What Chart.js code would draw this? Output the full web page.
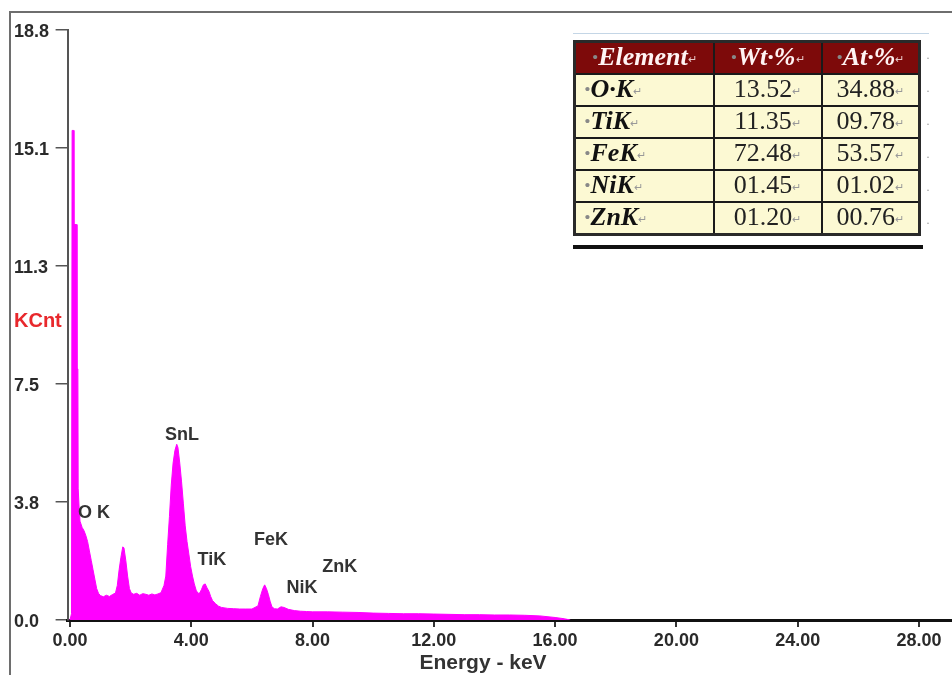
<!DOCTYPE html>
<html>
<head>
<meta charset="utf-8">
<script src="https://cdn.jsdelivr.net/npm/chart.js@4.4.1/dist/chart.umd.min.js"></script>
<style>
    body { margin: 0; background: #fff; overflow: hidden; }
    #wrap { position: relative; width: 952px; height: 675px; }
    #frame { position: absolute; left: 9px; top: 11px; width: 960px; height: 680px;
             border-top: 2px solid #6e6e6e; border-left: 2px solid #6e6e6e; }
    #blueRule { position: absolute; left: 573px; top: 33px; width: 356px; border-top: 1px solid #c4d6e6; }
    #quant { position: absolute; left: 573px; top: 40px; border-collapse: collapse; table-layout: fixed;
             border: 3px solid #2a2a2a; font-family: "Liberation Serif", "Times New Roman", serif; font-size: 26px; }
    #quant td, #quant th { border: 2px solid #1a1a1a; height: 28px; padding: 0 4px; line-height: 28px; white-space: nowrap; }
    #quant th { background: #7d0a0a; color: #fff4f4; font-style: italic; font-weight: bold; text-align: center; }
    #quant td { background: #fcf9d3; color: #222; text-align: center; }
    #quant td.el { text-align: left; font-style: italic; font-weight: bold; padding-left: 8px; color: #111; }
    .pm { font-size: 11px; color: #999; font-style: normal; font-weight: normal; vertical-align: middle; }
    th .pm { color: #e9c8c8; }
    .dot { color: #888; }
    #dots { position: absolute; left: 926px; top: 42px; font-size: 12px; color: #999; line-height: 33px; }
    #doubleRule { position: absolute; left: 573px; top: 245px; width: 350px; height: 4px; background: #111; }
</style>
</head>
<body>
<div id="wrap">
    <canvas id="eds" width="952" height="675"></canvas>
    <div id="frame"></div>
    <div id="blueRule"></div>
    <table id="quant"></table>
    <div id="dots"></div>
    <div id="doubleRule"></div>
</div>
<script>
// spectrum (keV, KCnt)
const energies = [0.00, 0.05, 0.07, 0.12, 0.13, 0.22, 0.23, 0.26, 0.27, 0.30, 0.33, 0.40, 0.46, 0.52, 0.58, 0.64,
    0.70, 0.76, 0.82, 0.88, 0.94, 1.00, 1.10, 1.20, 1.30, 1.40, 1.50, 1.56, 1.62, 1.68, 1.74, 1.78, 1.84, 1.90,
    1.96, 2.02, 2.10, 2.20, 2.30, 2.40, 2.50, 2.60, 2.70, 2.80, 2.90, 3.00, 3.10, 3.16, 3.22, 3.28, 3.34, 3.40,
    3.46, 3.52, 3.56, 3.62, 3.68, 3.74, 3.80, 3.86, 3.92, 3.98, 4.04, 4.10, 4.16, 4.22, 4.28, 4.34, 4.40, 4.46,
    4.52, 4.58, 4.64, 4.70, 4.80, 4.90, 5.00, 5.20, 5.40, 5.60, 5.80, 6.00, 6.20, 6.28, 6.36, 6.42, 6.48, 6.54,
    6.60, 6.66, 6.74, 6.84, 6.96, 7.06, 7.20, 7.40, 7.60, 7.80, 8.00, 8.50, 9.00, 9.50, 10.0, 10.5, 11.0, 11.5,
    12.0, 12.5, 13.0, 13.5, 14.0, 14.5, 15.0, 15.5, 16.0, 16.3, 16.5];
const counts = [0.00, 0.20, 15.6, 15.6, 12.6, 12.6, 8.0, 8.0, 4.2, 3.6, 3.15, 2.95, 2.85, 2.7, 2.5, 2.2,
    1.9, 1.6, 1.3, 1.0, 0.85, 0.78, 0.74, 0.79, 0.75, 0.81, 0.86, 1.1, 1.6, 2.0, 2.33, 2.3, 1.9, 1.4,
    1.0, 0.86, 0.82, 0.85, 0.79, 0.84, 0.82, 0.79, 0.83, 0.80, 0.83, 0.87, 1.1, 1.4, 2.4, 3.3, 4.3, 5.0,
    5.4, 5.6, 5.5, 5.0, 4.4, 3.7, 3.0, 2.5, 2.1, 1.7, 1.4, 1.15, 0.95, 0.85, 0.86, 0.98, 1.12, 1.15,
    1.02, 0.92, 0.75, 0.62, 0.52, 0.44, 0.40, 0.37, 0.36, 0.35, 0.35, 0.35, 0.45, 0.75, 1.0, 1.12, 1.0, 0.82,
    0.6, 0.42, 0.36, 0.35, 0.42, 0.40, 0.34, 0.30, 0.28, 0.27, 0.26, 0.26, 0.25, 0.24, 0.22, 0.21, 0.20, 0.20,
    0.19, 0.18, 0.17, 0.17, 0.16, 0.16, 0.15, 0.13, 0.08, 0.04, 0.00];

// peak labels: name, energy and height of the label centre
const peakNames = ['O K', 'SnL', 'TiK', 'FeK', 'NiK', 'ZnK'];
const peakLabelEnergy = [0.79, 3.69, 4.68, 6.63, 7.65, 8.90];
const peakLabelCount = [3.41, 5.88, 1.91, 2.55, 1.02, 1.69];

const xTickValues = [0, 4, 8, 12, 16, 20, 24, 28];
const xTickLabels = ['0.00', '4.00', '8.00', '12.00', '16.00', '20.00', '24.00', '28.00'];
const yTickValues = [0, 3.76, 7.52, 11.28, 15.04, 18.8];
const yTickLabels = ['0.0', '3.8', '7.5', '11.3', '15.1', '18.8'];

// quantification table
const tableHeader = ['Element', 'Wt·%', 'At·%'];
const elements = ['O·K', 'TiK', 'FeK', 'NiK', 'ZnK'];
const wtPercent = ['13.52', '11.35', '72.48', '01.45', '01.20'];
const atPercent = ['34.88', '09.78', '53.57', '01.02', '00.76'];

function buildTable() {
    const pm = '<span class="pm">↵</span>';
    const table = document.getElementById('quant');
    let html = '<colgroup><col style="width:139px"><col style="width:108px"><col style="width:98px"></colgroup><tr>';
    tableHeader.forEach(h => {
        html += `<th><span class="dot">·</span>${h}${pm}</th>`;
    });
    html += '</tr>';
    elements.forEach((el, i) => {
        html += `<tr><td class="el"><span class="dot">·</span>${el}${pm}</td>`;
        html += `<td>${wtPercent[i]}${pm}</td><td>${atPercent[i]}${pm}</td></tr>`;
    });
    table.innerHTML = html;
    document.getElementById('dots').innerHTML = Array(elements.length + 1).fill('·').join('<br>');
}

const labelFont = 'bold 18px "Liberation Sans", Arial, sans-serif';

const edsText = {
    id: 'edsText',
    afterDatasetsDraw(chart) {
        const { ctx, scales: { x, y } } = chart;
        ctx.save();
        ctx.font = labelFont;
        ctx.fillStyle = '#333';
        ctx.textAlign = 'center';
        ctx.textBaseline = 'middle';
        peakNames.forEach((name, i) => {
            ctx.fillText(name, x.getPixelForValue(peakLabelEnergy[i]), y.getPixelForValue(peakLabelCount[i]));
        });
        ctx.font = 'bold 21px "Liberation Sans", Arial, sans-serif';
        ctx.fillText('Energy - keV', 483, 663);
        ctx.font = 'bold 20px "Liberation Sans", Arial, sans-serif';
        ctx.fillStyle = '#e8282c';
        ctx.textAlign = 'left';
        ctx.fillText('KCnt', 14, 321);
        ctx.restore();
    }
};

function drawSpectrum() {
    const ctx = document.getElementById('eds').getContext('2d');
    new Chart(ctx, {
        type: 'line',
        data: {
            datasets: [{
                data: energies.map((e, i) => ({ x: e, y: counts[i] })),
                borderColor: '#ff00ff',
                backgroundColor: '#ff00ff',
                borderWidth: 1,
                fill: 'origin',
                pointRadius: 0,
                tension: 0
            }]
        },
        options: {
            responsive: false,
            animation: false,
            devicePixelRatio: 1,
            layout: { padding: { left: 14, top: 30, right: 0, bottom: 0 } },
            plugins: { legend: { display: false }, tooltip: { enabled: false } },
            scales: {
                x: {
                    type: 'linear',
                    min: -0.079,
                    max: 29.09,
                    afterBuildTicks: s => { s.ticks = xTickValues.map(v => ({ value: v })); },
                    afterFit: s => { s.height = 55; },
                    ticks: {
                        callback: (v, i) => xTickLabels[i],
                        font: { family: '"Liberation Sans", Arial, sans-serif', size: 18, weight: 'bold' },
                        color: '#2a2a2a',
                        padding: 3,
                        maxRotation: 0
                    },
                    grid: { drawOnChartArea: false, drawTicks: true, tickLength: 7, color: '#333', lineWidth: 2 },
                    border: { display: true, color: '#111', width: 3 }
                },
                y: {
                    min: 0,
                    max: 18.8,
                    afterBuildTicks: s => { s.ticks = yTickValues.map(v => ({ value: v })); },
                    afterFit: s => { s.width = 53.6; },
                    ticks: {
                        callback: (v, i) => yTickLabels[i],
                        font: { family: '"Liberation Sans", Arial, sans-serif', size: 18, weight: 'bold' },
                        color: '#2a2a2a',
                        crossAlign: 'far',
                        labelOffset: 2
                    },
                    grid: { drawOnChartArea: false, drawTicks: true, tickLength: 12, color: '#555', lineWidth: 1.5 },
                    border: { display: true, color: '#555', width: 2 }
                }
            }
        },
        plugins: [edsText]
    });
}

document.addEventListener('DOMContentLoaded', () => {
    buildTable();
    drawSpectrum();
});
</script>
</body>
</html>
